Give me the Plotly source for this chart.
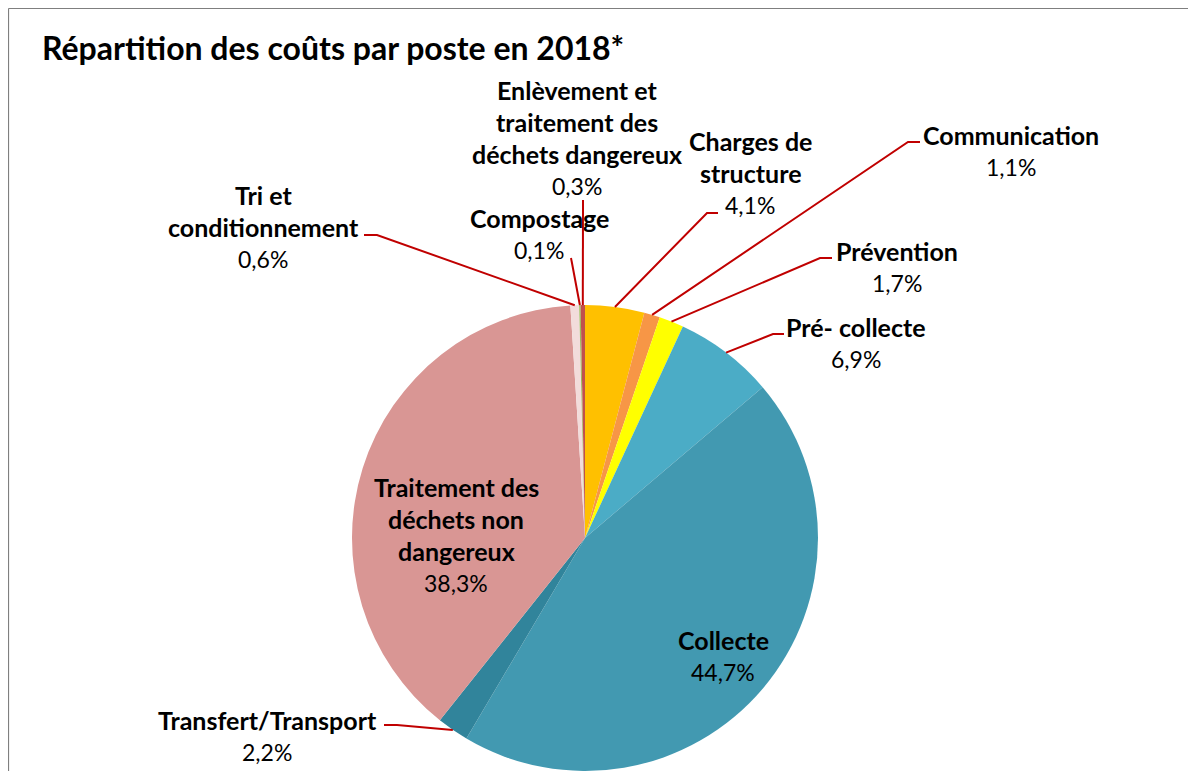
import math
import plotly.graph_objects as go

# data
postes = ['Charges de structure', 'Communication', 'Prévention', 'Pré- collecte', 'Collecte',
          'Transfert/Transport', 'Traitement des déchets non dangereux', 'Tri et conditionnement',
          'Compostage', 'Enlèvement et traitement des déchets dangereux']
parts = [4.1, 1.1, 1.7, 6.9, 44.7, 2.2, 38.3, 0.6, 0.1, 0.3]
couleurs = ['#FFC000', '#F79646', '#FFFF00', '#4BACC6', '#4299B1',
            '#31849B', '#D99694', '#F2DCDB', '#9BBB59', '#C0504D']

OFF = 8   # the page body has an 8px margin, positions below are page pixels
W, H = 1196 - OFF, 771 - OFF
FONT = 'Lato'
CX, CY, R = 585, 538, 233   # pie centre / radius in page pixels


def px(x):
    return (x - OFF) / W


def py(y):
    return 1 - (y - OFF) / H


def fmt(v):
    return ('%.1f%%' % v).replace('.', ',')


fig = go.Figure(go.Pie(
    labels=postes, values=parts, sort=False, direction='clockwise', rotation=0,
    marker=dict(colors=couleurs, line=dict(width=0)),
    textinfo='none', hoverinfo='label+percent', showlegend=False,
    domain=dict(x=[px(CX - R), px(CX + R)], y=[max(0, py(CY + R)), py(CY - R)]),
))

annotations = []
shapes = []


def text(x, y, s, bold):
    annotations.append(dict(
        x=px(x), y=py(y), xref='paper', yref='paper', showarrow=False,
        text='<b>%s</b>' % s if bold else s, xanchor='center', yanchor='middle',
        font=dict(family=FONT, size=25 if bold else 23, color='#000000')))


def label(i, x, y, lines, step=32):
    for k, ln in enumerate(lines):
        text(x, y + k * step, ln, True)
    text(x, y + len(lines) * step, fmt(parts[i]), False)


# label positions (centre x, first line y) and elbow points of the leader lines
labels_pos = {
    0: (750, 141, ['Charges de', 'structure'], (718, 213), (707, 213)),
    1: (1011, 135, ['Communication'], (920, 142), (908, 142)),
    2: (897, 251, ['Prévention'], (832, 258), (820, 258)),
    3: (856, 327, ['Pré- collecte'], (784, 334), (773, 334)),
    4: (723, 640, ['Collecte'], None, None),
    5: (267, 720, ['Transfert/Transport'], (384, 725), (397, 725)),
    6: (456, 487, ['Traitement des', 'déchets non', 'dangereux'], None, None),
    7: (263, 195, ['Tri et', 'conditionnement'], (364, 235), (377, 235)),
    8: (539, 218, ['Compostage'], (571, 258), (571, 258)),
    9: (577, 90, ['Enlèvement et', 'traitement des', 'déchets dangereux'], (583, 200), (583, 200)),
}

total = sum(parts)
cum = 0
for i, v in enumerate(parts):
    mid = (cum + v / 2) / total * 2 * math.pi
    cum += v
    x, y, lines, p0, p1 = labels_pos[i]
    label(i, x, y, lines)
    if p0 is None:
        continue
    ex = CX + R * math.sin(mid)
    ey = CY - R * math.cos(mid)
    path = 'M %f,%f L %f,%f L %f,%f' % (px(p0[0]), py(p0[1]), px(p1[0]), py(p1[1]), px(ex), py(ey))
    shapes.append(dict(type='path', xref='paper', yref='paper', path=path,
                       line=dict(color='#C00000', width=2)))

# frame (top and left edges visible)
shapes.append(dict(type='line', xref='paper', yref='paper', x0=0.5 / W, y0=1 - 0.5 / H, x1=1.0, y1=1 - 0.5 / H,
                   line=dict(color='#7F7F7F', width=1.2)))
shapes.append(dict(type='line', xref='paper', yref='paper', x0=0.5 / W, y0=1 - 0.5 / H, x1=0.5 / W, y1=0,
                   line=dict(color='#7F7F7F', width=1.2)))

annotations.append(dict(
    x=px(40), y=py(48), xref='paper', yref='paper', showarrow=False, xanchor='left', yanchor='middle',
    text='<b>Répartition des coûts par poste en 2018*</b>',
    font=dict(family=FONT, size=32, color='#000000')))

fig.update_layout(
    width=W, height=H, margin=dict(l=0, r=0, t=0, b=0),
    paper_bgcolor='white', plot_bgcolor='white',
    annotations=annotations, shapes=shapes,
)

fig.write_html('out.html')
